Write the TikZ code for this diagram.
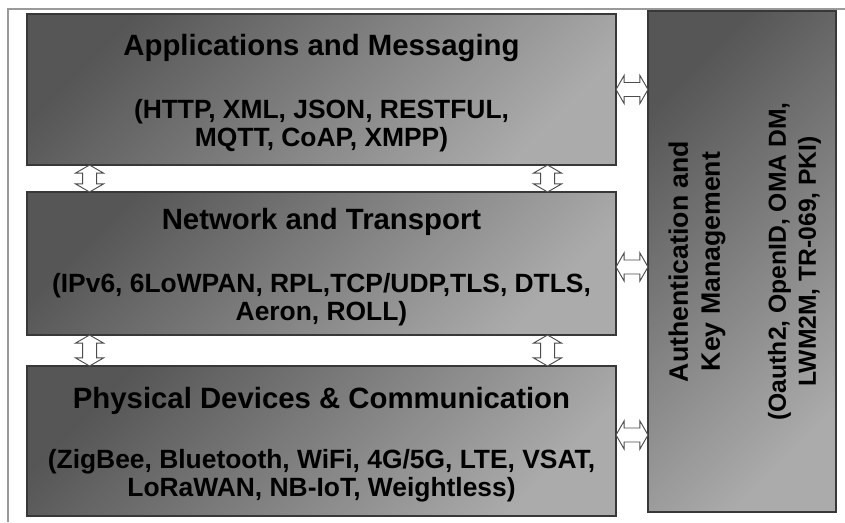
\documentclass[tikz,border=0pt]{standalone}
\usepackage{fontspec}
\setmainfont{Liberation Sans}
\usepackage{tikz}
\usetikzlibrary{shapes.arrows,calc,positioning}
\definecolor{Shade1}{HTML}{565656}
\definecolor{Shade2}{HTML}{ABABAB}
\definecolor{Edge}{HTML}{383838}
\definecolor{Frame}{HTML}{9A9A9A}
\tikzset{
layer/.style= {rectangle, draw=Edge, line width=0.9pt, top color=Shade1, bottom color=Shade2, shading angle=45, align=center, inner sep=0pt, font=\fontsize{19.8}{20.5}\selectfont\bfseries},
hlink/.style= {double arrow, draw=Edge!90, fill=white, line width=0.7pt, minimum height=24pt, inner xsep=0pt, inner ysep=4.9pt, double arrow head extend=5.4pt, double arrow tip angle=120},
vlink/.style= {hlink, shape border rotate=90, inner xsep=4.9pt, inner ysep=0pt}
}
\newcommand{\layertitle}[1]{{\fontsize{22}{24}\selectfont\rule{0pt}{21pt}#1}}

\begin{document}
\begin{tikzpicture}[x=0.75pt, y=-0.75pt]
    \useasboundingbox (0,0) rectangle (845,522);
    \draw[Frame, line width=1pt] (8,522) -- (8,9) -- (845,9);

    % the three stacked layers
    \node[layer, minimum width=441.75pt, minimum height=113.25pt] (appl) at (321.5,89.5)
        {\layertitle{Applications and Messaging}\\[27pt](HTTP, XML, JSON, RESTFUL,\\MQTT, CoAP, XMPP)};
    \node[layer, minimum width=441.75pt, minimum height=107.25pt] (netw) at (321.5,263.5)
        {\layertitle{Network and Transport}\\[27pt](IPv6, 6LoWPAN, RPL,TCP/UDP,TLS, DTLS,\\Aeron, ROLL)};
    \node[layer, minimum width=441.75pt, minimum height=112.5pt] (phys) at (321.5,441)
        {\layertitle{Physical Devices \& Communication}\\[25pt](ZigBee, Bluetooth, WiFi, 4G/5G, LTE, VSAT,\\LoRaWAN, NB-IoT, Weightless)};

    % side column
    \node[layer, minimum width=141pt, minimum height=375.75pt] (auth) at (742,261.5) {};
    \node[rotate=90, align=center, font=\fontsize{18.5}{22.5}\selectfont\bfseries] (authtext) at ([xshift=2pt]auth.center)
        {{\fontsize{20}{24}\selectfont Authentication and}\\[1.5pt]{\fontsize{20}{24}\selectfont Key Management}\\[27pt](Oauth2, OpenID, OMA DM,\\LWM2M, TR-069, PKI)};

    % links between layers
    \path ($(appl.south west)!.107!(appl.south east)$) -- node[vlink, minimum height=20.25pt] (va) {} ($(netw.north west)!.107!(netw.north east)$);
    \path ($(appl.south west)!.883!(appl.south east)$) -- node[vlink, minimum height=20.25pt] (vb) {} ($(netw.north west)!.883!(netw.north east)$);
    \path ($(netw.south west)!.107!(netw.south east)$) -- node[vlink, minimum height=23.25pt] (vc) {} ($(phys.north west)!.107!(phys.north east)$);
    \path ($(netw.south west)!.883!(netw.south east)$) -- node[vlink, minimum height=23.25pt] (vd) {} ($(phys.north west)!.883!(phys.north east)$);

    % links to the side column
    \node[hlink] (ha) at ($(appl.east)!0.5!(auth.west |- appl.east)$) {};
    \node[hlink, yshift=-2.6pt] (hb) at ($(netw.east)!0.5!(auth.west |- netw.east)$) {};
    \node[hlink, yshift=4.5pt] (hc) at ($(phys.east)!0.5!(auth.west |- phys.east)$) {};
\end{tikzpicture}
\end{document}
